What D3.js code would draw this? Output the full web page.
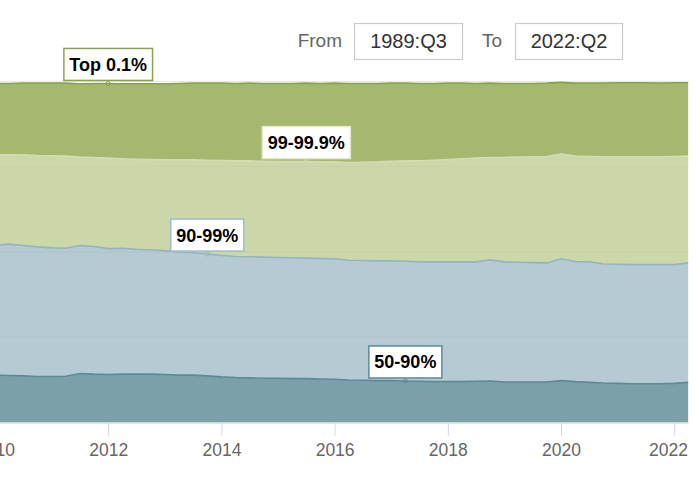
<!DOCTYPE html>
<html>
<head>
<meta charset="utf-8">
<script src="https://cdn.jsdelivr.net/npm/d3@7"></script>
<style>
  html, body { margin: 0; padding: 0; background: #fff; }
  svg { display: block; font-family: "Liberation Sans", Arial, Helvetica, sans-serif; }
</style>
</head>
<body>
<svg id="chart" width="696" height="481"></svg>
<script>
// ---- data ----
const quarters = [
  "2010:Q1","2010:Q2","2010:Q3","2010:Q4","2011:Q1","2011:Q2","2011:Q3","2011:Q4",
  "2012:Q1","2012:Q2","2012:Q3","2012:Q4","2013:Q1","2013:Q2","2013:Q3","2013:Q4",
  "2014:Q1","2014:Q2","2014:Q3","2014:Q4","2015:Q1","2015:Q2","2015:Q3","2015:Q4",
  "2016:Q1","2016:Q2","2016:Q3","2016:Q4","2017:Q1","2017:Q2","2017:Q3","2017:Q4",
  "2018:Q1","2018:Q2","2018:Q3","2018:Q4","2019:Q1","2019:Q2","2019:Q3","2019:Q4",
  "2020:Q1","2020:Q2","2020:Q3","2020:Q4","2021:Q1","2021:Q2","2021:Q3","2021:Q4",
  "2022:Q1","2022:Q2"
];
const share50to90 = [13.9,13.8,13.7,13.5,13.5,13.6,14.4,14.2,14.1,14.2,14.2,14.2,14.1,13.9,13.9,13.7,13.4,13.2,13.1,13.0,13.0,12.9,12.9,12.8,12.7,12.5,12.4,12.3,12.3,12.2,12.1,12.0,12.0,12.0,12.1,12.2,11.9,11.9,11.9,11.9,12.3,12.0,11.8,11.6,11.5,11.4,11.4,11.4,11.5,11.8];
const share90to99 = [38.1,38.5,38.2,38.0,37.7,37.5,37.5,37.4,36.9,36.9,36.6,36.4,36.3,36.1,35.9,35.7,35.6,35.5,35.5,35.5,35.4,35.4,35.3,35.3,35.3,35.1,35.1,35.1,35.1,35.1,35.0,35.1,35.1,35.1,35.0,35.5,35.2,35.1,35.0,34.9,35.7,35.2,35.3,34.9,34.9,34.9,34.9,34.9,34.8,35.0];
const share99to999 = [26.5,26.2,26.6,26.8,27.0,27.0,25.9,26.1,26.5,26.2,26.4,26.5,26.6,27.0,27.2,27.5,27.8,28.0,28.1,28.1,28.1,28.2,28.3,28.3,28.4,28.6,28.8,29.0,29.2,29.4,29.6,29.8,30.0,30.2,30.4,30.0,30.6,30.8,31.0,31.2,30.7,30.9,30.9,31.4,31.5,31.6,31.6,31.6,31.7,31.3];
const shareTop01 = [20.9,20.9,21.0,21.2,21.3,21.4,21.5,21.7,21.9,22.0,22.1,22.2,22.3,22.4,22.5,22.6,22.7,22.7,22.8,22.8,22.9,22.9,23.0,23.0,23.1,23.2,23.1,23.0,22.9,22.8,22.7,22.5,22.4,22.2,21.9,21.8,21.7,21.6,21.5,21.5,21.0,21.4,21.5,21.6,21.7,21.7,21.7,21.6,21.6,21.5];
const seriesNames = ["50-90%", "90-99%", "99-99.9%", "Top 0.1%"];
const labelQuarters = ["2017:Q2", "2013:Q4", "2015:Q3", "2012:Q1"];
const yearTicks = [2010, 2012, 2014, 2016, 2018, 2020, 2022];
const yTicks = [0, 25, 50, 75, 100];
const rangeFrom = "1989:Q3", rangeTo = "2022:Q2";

// ---- styles ----
const fills = ["#7ba0a9", "#b5cad2", "#ccd7aa", "#a6b770"];
const lines = ["#5a8b98", "#95b4c3", "#d3dcb4", "#89a24f"];
const boxBorders = ["#5a8b98", "#9fbccb", "#e3e9cf", "#89a24f"];

const svg = d3.select("#chart");
const plotLeft = 0, plotRight = 688.4, plotTop = 81.4, plotBottom = 422.6;

function qToNum(q) { const [y, qq] = q.split(":Q"); return +y + (+qq - 1) / 4; }
const tvals = quarters.map(qToNum);

const x = d3.scaleLinear().domain([2010, 2022.25]).range([-5, plotRight]);
const y = d3.scaleLinear().domain([0, 100]).range([plotBottom, plotTop]);

const rows = quarters.map((q, i) => ({
  t: tvals[i], "50-90%": share50to90[i], "90-99%": share90to99[i],
  "99-99.9%": share99to999[i], "Top 0.1%": shareTop01[i]
}));
const stacked = d3.stack().keys(seriesNames)(rows);

// clip
svg.append("defs").append("clipPath").attr("id", "plotclip")
  .append("rect").attr("x", plotLeft).attr("y", 0).attr("width", plotRight - plotLeft).attr("height", plotBottom);

// grid under
svg.append("g").selectAll("line").data(yTicks).join("line")
  .attr("x1", plotLeft).attr("x2", plotRight)
  .attr("y1", d => y(d)).attr("y2", d => y(d))
  .attr("stroke", "#e6e6e6").attr("stroke-width", 1);

const g = svg.append("g").attr("clip-path", "url(#plotclip)");
const area = d3.area().x(d => x(d.data.t)).y0(d => y(d[0])).y1(d => y(d[1]));
const line = d3.line().x(d => x(d.data.t)).y(d => y(d[1]));

g.selectAll("path.area").data(stacked).join("path")
  .attr("class", "area").attr("d", area).attr("fill", (d, i) => fills[i]);

// faint gridlines visible through fills
g.selectAll("line.gridover").data(yTicks.slice(1, 4)).join("line")
  .attr("class", "gridover")
  .attr("x1", plotLeft).attr("x2", plotRight)
  .attr("y1", d => y(d)).attr("y2", d => y(d))
  .attr("stroke", "#000").attr("stroke-opacity", 0.035).attr("stroke-width", 1);

g.selectAll("path.line").data(stacked).join("path")
  .attr("class", "line").attr("d", line).attr("fill", "none")
  .attr("stroke", (d, i) => lines[i]).attr("stroke-width", 1.6);

// x axis
const xAxis = d3.axisBottom(x).tickValues(yearTicks).tickFormat(d3.format("d"))
  .tickSize(13).tickPadding(8);
const ax = svg.append("g").attr("transform", `translate(0,${plotBottom})`).call(xAxis);
ax.select(".domain").attr("d", `M${plotLeft},0.5H${plotRight}`).attr("stroke", "#ccd6eb");
ax.selectAll(".tick line").attr("stroke", "#ccd6eb").attr("stroke-width", 1);
ax.selectAll(".tick text").attr("fill", "#666").attr("font-size", "17.5px")
  .attr("font-family", "'Liberation Sans', Arial, sans-serif");
// keep the last label inside the plot (justify)
ax.selectAll(".tick").each(function(d) {
  const t = d3.select(this).select("text");
  const w = t.node().getComputedTextLength();
  const right = x(d) + w / 2;
  if (right > plotRight - 1) t.attr("x", (plotRight - 1) - right);
});

// series labels
seriesNames.forEach((name, si) => {
  const idx = quarters.indexOf(labelQuarters[si]);
  const pt = stacked[si][idx];
  const px = x(pt.data.t), py = y(pt[1]);
  const lg = svg.append("g");
  const txt = lg.append("text").text(name)
    .attr("font-size", "18px").attr("font-weight", "bold").attr("fill", "#000")
    .attr("text-anchor", "middle").attr("x", px).attr("y", py - 3 - 16 + 6.5);
  const w = txt.node().getComputedTextLength() + 11;
  lg.insert("rect", "text")
    .attr("x", px - w / 2).attr("y", py - 3 - 32).attr("width", w).attr("height", 32)
    .attr("fill", "#fff").attr("stroke", boxBorders[si]).attr("stroke-width", 1.5);
  lg.append("circle").attr("cx", px).attr("cy", py).attr("r", 2)
    .attr("fill", "none").attr("stroke", lines[si]).attr("stroke-width", 1);
});

// range selector
const rs = svg.append("g").attr("font-family", "'Liberation Sans', Arial, sans-serif");
rs.append("text").text("From").attr("x", 342).attr("y", 47).attr("text-anchor", "end")
  .attr("font-size", "19px").attr("fill", "#666");
rs.append("rect").attr("x", 354.5).attr("y", 23.5).attr("width", 108).attr("height", 36)
  .attr("fill", "#fff").attr("stroke", "#ccc").attr("stroke-width", 1.2);
rs.append("text").text(rangeFrom).attr("x", 408.5).attr("y", 47.5).attr("text-anchor", "middle")
  .attr("font-size", "20px").attr("fill", "#333");
rs.append("text").text("To").attr("x", 492).attr("y", 47).attr("text-anchor", "middle")
  .attr("font-size", "19px").attr("fill", "#666");
rs.append("rect").attr("x", 515.5).attr("y", 23.5).attr("width", 107).attr("height", 36)
  .attr("fill", "#fff").attr("stroke", "#ccc").attr("stroke-width", 1.2);
rs.append("text").text(rangeTo).attr("x", 569).attr("y", 47.5).attr("text-anchor", "middle")
  .attr("font-size", "20px").attr("fill", "#333");
</script>
</body>
</html>
